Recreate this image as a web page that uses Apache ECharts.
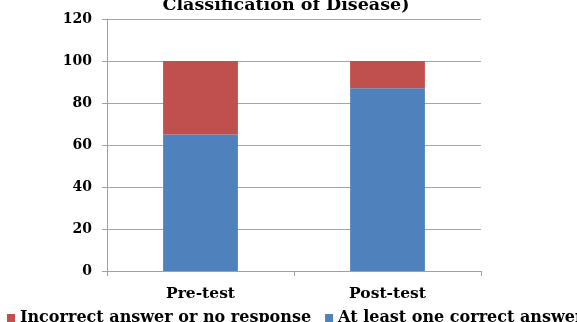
<!DOCTYPE html>
<html><head><meta charset="utf-8">
<script src="https://cdn.jsdelivr.net/npm/echarts@6/dist/echarts.min.js"></script>
<style>html,body{margin:0;padding:0;background:#fff;overflow:hidden}#c{width:577px;height:322px}</style>
</head><body><div id="c"></div>
<script>
const categories = ['Pre-test', 'Post-test'];
const correctValues = [65, 87];
const incorrectValues = [35, 13];
const yTicks = [0, 20, 40, 60, 80, 100, 120];

const FONT = '"DejaVu Serif", "Liberation Serif", serif';
const chart = echarts.init(document.getElementById('c'), null, {renderer: 'canvas'});
chart.setOption({
  animation: false,
  title: {
    text: 'Classification of Disease)',
    left: 281, textAlign: 'center', top: -9,
    textStyle: {fontFamily: FONT, fontWeight: 'bold', fontSize: 17.5, color: '#000'}
  },
  grid: {left: 107, right: 96, top: 19, bottom: 51, containLabel: false},
  legend: {
    data: ['Incorrect answer or no response', 'At least one correct answer'],
    left: 7, top: 310, width: 800, orient: 'horizontal',
    itemWidth: 8, itemHeight: 8, itemGap: 14, padding: 0,
    icon: 'rect',
    textStyle: {fontFamily: FONT, fontWeight: 'bold', fontSize: 16, color: '#000', padding: [0, 0, 0, 0]}
  },
  xAxis: {
    type: 'category', data: categories,
    axisLine: {lineStyle: {color: '#a0a0a0', width: 1}},
    axisTick: {show: true, length: 5, lineStyle: {color: '#a0a0a0'}},
    axisLabel: {fontFamily: FONT, fontWeight: 'bold', fontSize: 15.5, color: '#000', margin: 15}
  },
  yAxis: {
    type: 'value', min: yTicks[0], max: yTicks[yTicks.length - 1], interval: 20,
    axisLine: {show: true, lineStyle: {color: '#a0a0a0', width: 1}},
    axisTick: {show: true, length: 5, lineStyle: {color: '#a0a0a0'}},
    axisLabel: {fontFamily: FONT, fontWeight: 'bold', fontSize: 14, color: '#000', margin: 15},
    splitLine: {lineStyle: {color: '#a6a6a6', width: 1}}
  },
  series: [
    {
      name: 'At least one correct answer', type: 'bar', stack: 'total',
      data: correctValues, barWidth: '40%',
      itemStyle: {color: '#4F81BD'}
    },
    {
      name: 'Incorrect answer or no response', type: 'bar', stack: 'total',
      data: incorrectValues, barWidth: '40%',
      itemStyle: {color: '#C0504D'}
    }
  ]
});
</script></body></html>
